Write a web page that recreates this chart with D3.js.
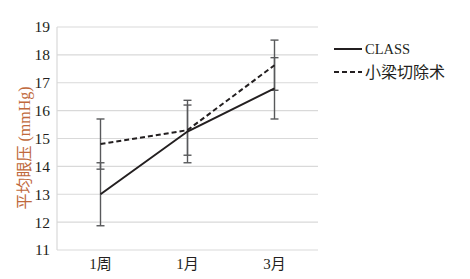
<!DOCTYPE html>
<html lang="zh">
<head>
<meta charset="UTF-8">
<style>
  html, body { margin: 0; background: #fff; }
  text { font-family: 'Liberation Serif', 'Noto Sans CJK SC', serif; fill: #231f20; }
  .grid line { stroke: #d9d9d9; stroke-width: 1.2px; }
  .series { fill: none; stroke: #231f20; stroke-width: 2px; }
  .err { stroke: #58595b; stroke-width: 1.4px; }
</style>
</head>
<body>
<svg width="470" height="279"></svg>
<script src="https://d3js.org/d3.v7.min.js"></script>
<script>

const categories = ["1周", "1月", "3月"];
const yTicks = [11, 12, 13, 14, 15, 16, 17, 18, 19];
const classValues = [13.0, 15.25, 16.8];
const classErr = [1.13, 1.12, 1.1];
const trabValues = [14.8, 15.3, 17.63];
const trabErr = [0.9, 0.9, 0.9];
const seriesNames = ["CLASS", "小梁切除术"];

const svg = d3.select("svg"),
    margin = {top: 27, right: 152, bottom: 29, left: 57},
    width = +svg.attr("width") - margin.left - margin.right,
    height = +svg.attr("height") - margin.top - margin.bottom;

const x = d3.scaleBand().domain(categories).range([0, width]);
const y = d3.scaleLinear().domain([11, 19]).range([height, 0]);

const g = svg.append("g")
    .attr("transform", "translate(" + margin.left + "," + margin.top + ")");

// grid
g.append("g").attr("class", "grid")
  .selectAll("line").data(yTicks).join("line")
    .attr("x1", 0).attr("x2", width)
    .attr("y1", d => y(d)).attr("y2", d => y(d));

g.append("line")
    .attr("x1", 0).attr("x2", 0).attr("y1", 0).attr("y2", height)
    .attr("stroke", "#d9d9d9").attr("stroke-width", 1.2);

// y tick labels
g.selectAll(".ylab").data(yTicks).join("text")
    .attr("class", "ylab")
    .attr("x", -7).attr("y", d => y(d))
    .attr("dy", "0.35em")
    .attr("text-anchor", "end")
    .style("font-size", "15.5px")
    .text(d => d);

// x labels
g.selectAll(".xlab").data(categories).join("text")
    .attr("class", "xlab")
    .attr("x", d => x(d) + x.bandwidth() / 2)
    .attr("y", height + 19)
    .attr("text-anchor", "middle")
    .style("font-size", "15px")
    .text(d => d);

// y title
svg.append("text")
    .attr("transform", "translate(24,148) rotate(-90)")
    .attr("dy", "0.35em")
    .attr("text-anchor", "middle")
    .style("font-size", "16px")
    .style("fill", "#c0693b")
    .text("平均眼压 (mmHg)");

const cx = d => x(d) + x.bandwidth() / 2;

function errorBars(vals, errs) {
  const data = categories.map((c, i) => ({c: c, v: vals[i], e: errs[i]}));
  const eg = g.append("g");
  eg.selectAll(".v").data(data).join("line").attr("class", "err")
      .attr("x1", d => cx(d.c)).attr("x2", d => cx(d.c))
      .attr("y1", d => y(d.v - d.e)).attr("y2", d => y(d.v + d.e));
  [1, -1].forEach(s => {
    eg.selectAll(".cap" + s).data(data).join("line").attr("class", "err")
        .attr("x1", d => cx(d.c) - 4).attr("x2", d => cx(d.c) + 4)
        .attr("y1", d => y(d.v + s * d.e)).attr("y2", d => y(d.v + s * d.e));
  });
}
errorBars(classValues, classErr);
errorBars(trabValues, trabErr);

const line = d3.line()
    .x((d, i) => cx(categories[i]))
    .y(d => y(d));

g.append("path").datum(classValues).attr("class", "series").attr("d", line);
g.append("path").datum(trabValues).attr("class", "series")
    .attr("stroke-dasharray", "5,3").attr("d", line);

// legend
const legend = svg.append("g").attr("transform", "translate(334,0)");
seriesNames.forEach((name, i) => {
  const ly = 49 + i * 23;
  legend.append("line")
      .attr("x1", 0).attr("x2", 28).attr("y1", ly).attr("y2", ly)
      .attr("class", "series")
      .attr("stroke-dasharray", i ? "5,3" : null);
  legend.append("text")
      .attr("x", 31).attr("y", ly).attr("dy", "0.35em")
      .style("font-size", i ? "16px" : "14.5px")
      .text(name);
});

</script>
</body>
</html>
